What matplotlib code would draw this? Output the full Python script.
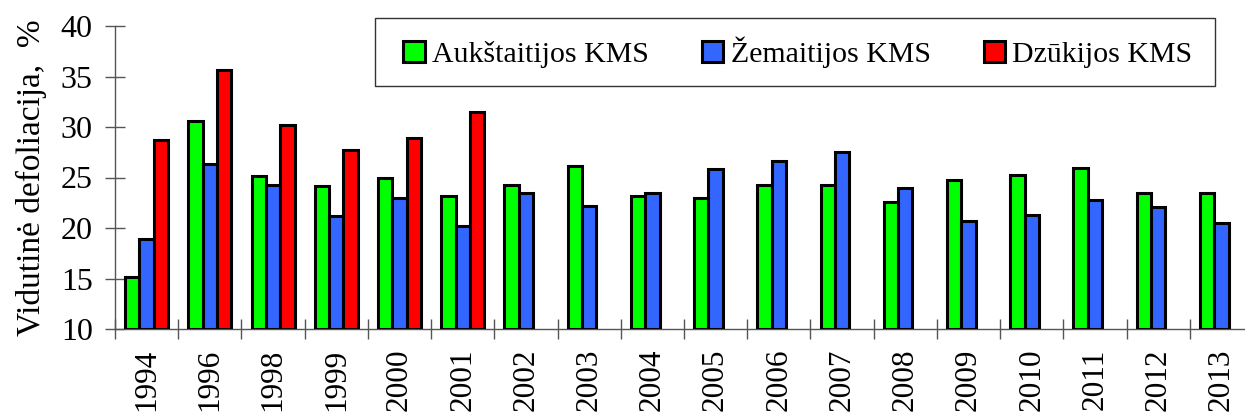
import numpy as np
import matplotlib
matplotlib.use("Agg")
import matplotlib.pyplot as plt
from matplotlib.patches import Rectangle
from matplotlib.ticker import FixedLocator, NullFormatter

plt.rcParams["font.family"] = ["Liberation Serif", "DejaVu Serif"]

# --------------------------------------------------------------------------
# Data
# --------------------------------------------------------------------------
years = ["1994", "1996", "1998", "1999", "2000", "2001", "2002", "2003", "2004",
         "2005", "2006", "2007", "2008", "2009", "2010", "2011", "2012", "2013"]

aukstaitija = [15.1, 30.6, 25.1, 24.2, 25.0, 23.2, 24.3, 26.1, 23.2,
               23.0, 24.3, 24.3, 22.6, 24.8, 25.2, 25.9, 23.5, 23.5]
zemaitija   = [18.9, 26.3, 24.3, 21.2, 23.0, 20.2, 23.5, 22.2, 23.5,
               25.8, 26.6, 27.5, 24.0, 20.7, 21.3, 22.8, 22.1, 20.5]
dzukija     = [28.7, 35.6, 30.2, 27.7, 28.9, 31.5]   # only 1994-2001

series_names  = ["Aukštaitijos KMS", "Žemaitijos KMS", "Dzūkijos KMS"]
series_colors = ["#00FF00", "#3366FF", "#FF0000"]

# --------------------------------------------------------------------------
# Figure
# --------------------------------------------------------------------------
W, H = 1245, 417
fig = plt.figure(figsize=(W / 100, H / 100), dpi=100)
ax = fig.add_axes([115 / W, 88 / H, 1138 / W, 303 / H])

x = np.arange(len(years))
bw = 0.227
for i, (vals, name, col) in enumerate(zip([aukstaitija, zemaitija, dzukija],
                                          series_names, series_colors)):
    xs = x[:len(vals)] + (i - 1) * bw
    ax.bar(xs, np.array(vals) - 10, bottom=10, width=bw, color=col,
           edgecolor="black", linewidth=2.2, label=name, zorder=3)

ax.set_xlim(-0.5, len(years) - 0.5)
ax.set_ylim(10, 40)
ax.set_yticks(np.arange(10, 41, 5))

# labels at centres, tick marks at category boundaries
ax.set_xticks(x)
ax.set_xticklabels(years, rotation=90, fontsize=22.5)
ax.xaxis.set_minor_locator(FixedLocator(np.arange(-0.5, len(years), 1.0)))
ax.xaxis.set_minor_formatter(NullFormatter())
ax.tick_params(axis="x", which="major", length=0, pad=14)
ax.tick_params(axis="x", which="minor", direction="inout", length=14,
               width=1, color="#555555")
ax.tick_params(axis="y", direction="inout", length=14, width=1,
               color="#555555", labelsize=23, pad=9)

for s in ["top", "right"]:
    ax.spines[s].set_visible(False)
for s in ["left", "bottom"]:
    ax.spines[s].set_color("#555555")
    ax.spines[s].set_linewidth(1)

ax.set_ylabel("Vidutinė defoliacija,  %", fontsize=24, labelpad=10)

# legend frame drawn separately so its padding matches the original
fig.patches.append(Rectangle((375 / W, 1 - 86 / H), 840 / W, 68 / H,
                             transform=fig.transFigure, facecolor="white",
                             edgecolor="#333333", linewidth=1, zorder=1))
leg = fig.legend(*ax.get_legend_handles_labels(), loc="center left",
                 bbox_to_anchor=(403 / W, 1 - 52 / H),
                 ncol=3, fontsize=21.5, frameon=False,
                 handlelength=0.72, handleheight=0.7, handletextpad=0.25,
                 columnspacing=1.77, borderpad=0, borderaxespad=0)

plt.savefig("out.png", dpi=100)
